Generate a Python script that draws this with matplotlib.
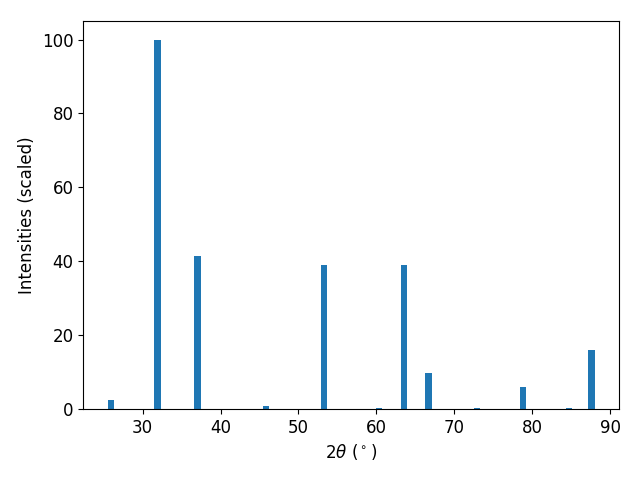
import matplotlib
matplotlib.use("Agg")
import matplotlib.pyplot as plt

# peak positions (2theta, degrees) and scaled intensities
two_theta = [25.9, 31.9, 37.05, 45.8, 53.3, 60.3, 63.5, 66.7, 72.9, 78.85, 84.7, 87.6]
intensity = [2.4, 100.0, 41.5, 0.8, 39.0, 0.3, 39.0, 9.8, 0.3, 6.0, 0.3, 16.0]

plt.rcParams['font.size'] = 12

fig, ax = plt.subplots(figsize=(6.4, 4.8), dpi=100)
ax.bar(two_theta, intensity, width=0.8)
ax.set_xlabel(r'$2\theta$ ($^\circ$)')
ax.set_ylabel('Intensities (scaled)')
fig.subplots_adjust(left=0.13, right=0.967, top=0.956, bottom=0.148)
fig.savefig('out.png')
